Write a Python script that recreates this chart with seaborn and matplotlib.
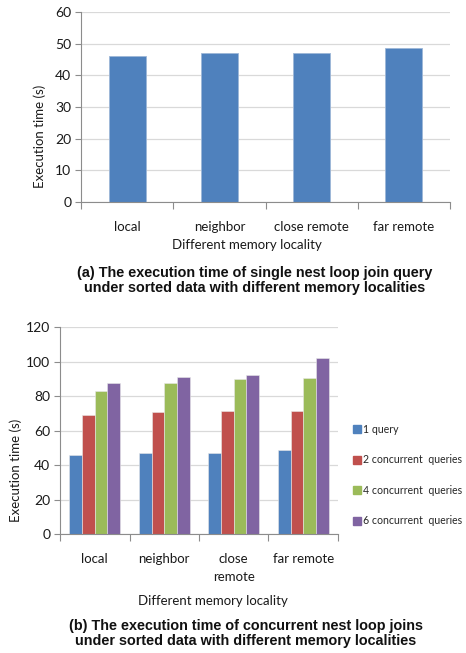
import matplotlib
matplotlib.use("Agg")
import matplotlib.pyplot as plt
from matplotlib.lines import Line2D
from matplotlib.ticker import FixedLocator, MultipleLocator
import seaborn as sns
import pandas as pd

# Memory localities and measured execution times (seconds)
localities = ["local", "neighbor", "close remote", "far remote"]
localities_wrapped = ["local", "neighbor", "close\nremote", "far remote"]
single_query = [46.2, 47.2, 47.1, 48.5]

series_names = ["1 query", "2 concurrent  queries", "4 concurrent  queries",
                "6 concurrent  queries"]
one_query = [46.0, 47.0, 47.0, 48.5]
two_queries = [68.8, 70.5, 71.2, 71.4]
four_queries = [82.9, 87.6, 89.6, 90.7]
six_queries = [87.6, 91.1, 91.9, 101.8]

colors = ["#4F81BD", "#C0504D", "#9BBB59", "#8064A2"]

sns.set_theme(style="white")
plt.rcParams["font.family"] = ["Lato", "DejaVu Sans"]

LABEL_FS = 9.5
TITLE_FS = 10.4
GRID = "#d9d9d9"
SPINE = "#8c8c8c"

fig = plt.figure(figsize=(4.66, 6.53), dpi=100)


def style_axes(ax, ymax, ystep):
    ax.set_ylim(0, ymax)
    ax.set_xlim(-0.5, 3.5)
    ax.yaxis.set_major_locator(MultipleLocator(ystep))
    ax.grid(axis="y", color=GRID, linewidth=0.9)
    ax.grid(axis="x", visible=False)
    ax.set_axisbelow(True)
    for side in ("top", "right"):
        ax.spines[side].set_visible(False)
    for side in ("left", "bottom"):
        ax.spines[side].set_color(SPINE)
        ax.spines[side].set_linewidth(0.8)
    ax.tick_params(axis="y", which="major", left=True, length=4, width=0.8,
                   color=SPINE, labelsize=LABEL_FS + 0.5, pad=3, labelcolor="#1a1a1a")
    ax.tick_params(axis="x", which="major", bottom=False, length=0,
                   labelsize=LABEL_FS, pad=14, labelcolor="#1a1a1a")
    ax.xaxis.set_minor_locator(FixedLocator([-0.5, 0.5, 1.5, 2.5, 3.5]))
    ax.tick_params(axis="x", which="minor", bottom=True, length=5, width=0.8,
                   color=SPINE)


# (a) single query
ax1 = fig.add_axes([0.1738, 0.6907, 0.7919, 0.2909])
sns.barplot(x=localities, y=single_query, color=colors[0], width=0.4,
            saturation=1, edgecolor="#9db7d8", linewidth=0.6, ax=ax1)
style_axes(ax1, 60, 10)
ax1.set_xticks(range(len(localities)))
ax1.set_xticklabels(localities)
ax1.set_xlabel("Different memory locality", fontsize=LABEL_FS, color="#1a1a1a")
ax1.set_ylabel("Execution time (s)", fontsize=LABEL_FS, color="#1a1a1a")
ax1.xaxis.set_label_coords(0.45, -0.195)
ax1.yaxis.set_label_coords(-0.095, 0.347)

fig.text(0.547, 1 - 280.5 / 653,
         "(a) The execution time of single nest loop join query\n"
         "under sorted data with different memory localities",
         ha="center", va="center", fontsize=TITLE_FS, fontweight="bold",
         family="Liberation Sans", linespacing=1.15, color="#111111")

# (b) concurrent queries
df = pd.DataFrame({
    "locality": localities * 4,
    "series": [s for s in series_names for _ in localities],
    "time": one_query + two_queries + four_queries + six_queries,
})
ax2 = fig.add_axes([0.1288, 0.1822, 0.5965, 0.3170])
sns.barplot(data=df, x="locality", y="time", hue="series", palette=colors,
            width=0.73, saturation=1, edgecolor="#e8e8e8", linewidth=0.4,
            legend=False, ax=ax2)
style_axes(ax2, 120, 20)
ax2.set_xticks(range(len(localities)))
ax2.set_xticklabels(localities_wrapped, va="top", linespacing=1.55)
ax2.set_xlabel("Different memory locality", fontsize=LABEL_FS, color="#1a1a1a")
ax2.set_ylabel("Execution time (s)", fontsize=LABEL_FS, color="#1a1a1a")
ax2.xaxis.set_label_coords(0.55, -0.295)
ax2.yaxis.set_label_coords(-0.135, 0.309)

handles = [Line2D([], [], marker="s", linestyle="none", markersize=5.5,
                  markerfacecolor=c, markeredgecolor=c) for c in colors]
ax2.legend(handles, series_names, loc="center left",
           bbox_to_anchor=(1.058, 0.285), frameon=False, fontsize=7.6,
           handlelength=0.6, handletextpad=0.25, labelspacing=1.85,
           borderaxespad=0, borderpad=0)

fig.text(0.527, 1 - 633.5 / 653,
         "(b) The execution time of concurrent nest loop joins\n"
         "under sorted data with different memory localities",
         ha="center", va="center", fontsize=TITLE_FS, fontweight="bold",
         family="Liberation Sans", linespacing=1.15, color="#111111")

fig.savefig("out.png", dpi=100, facecolor="white")
